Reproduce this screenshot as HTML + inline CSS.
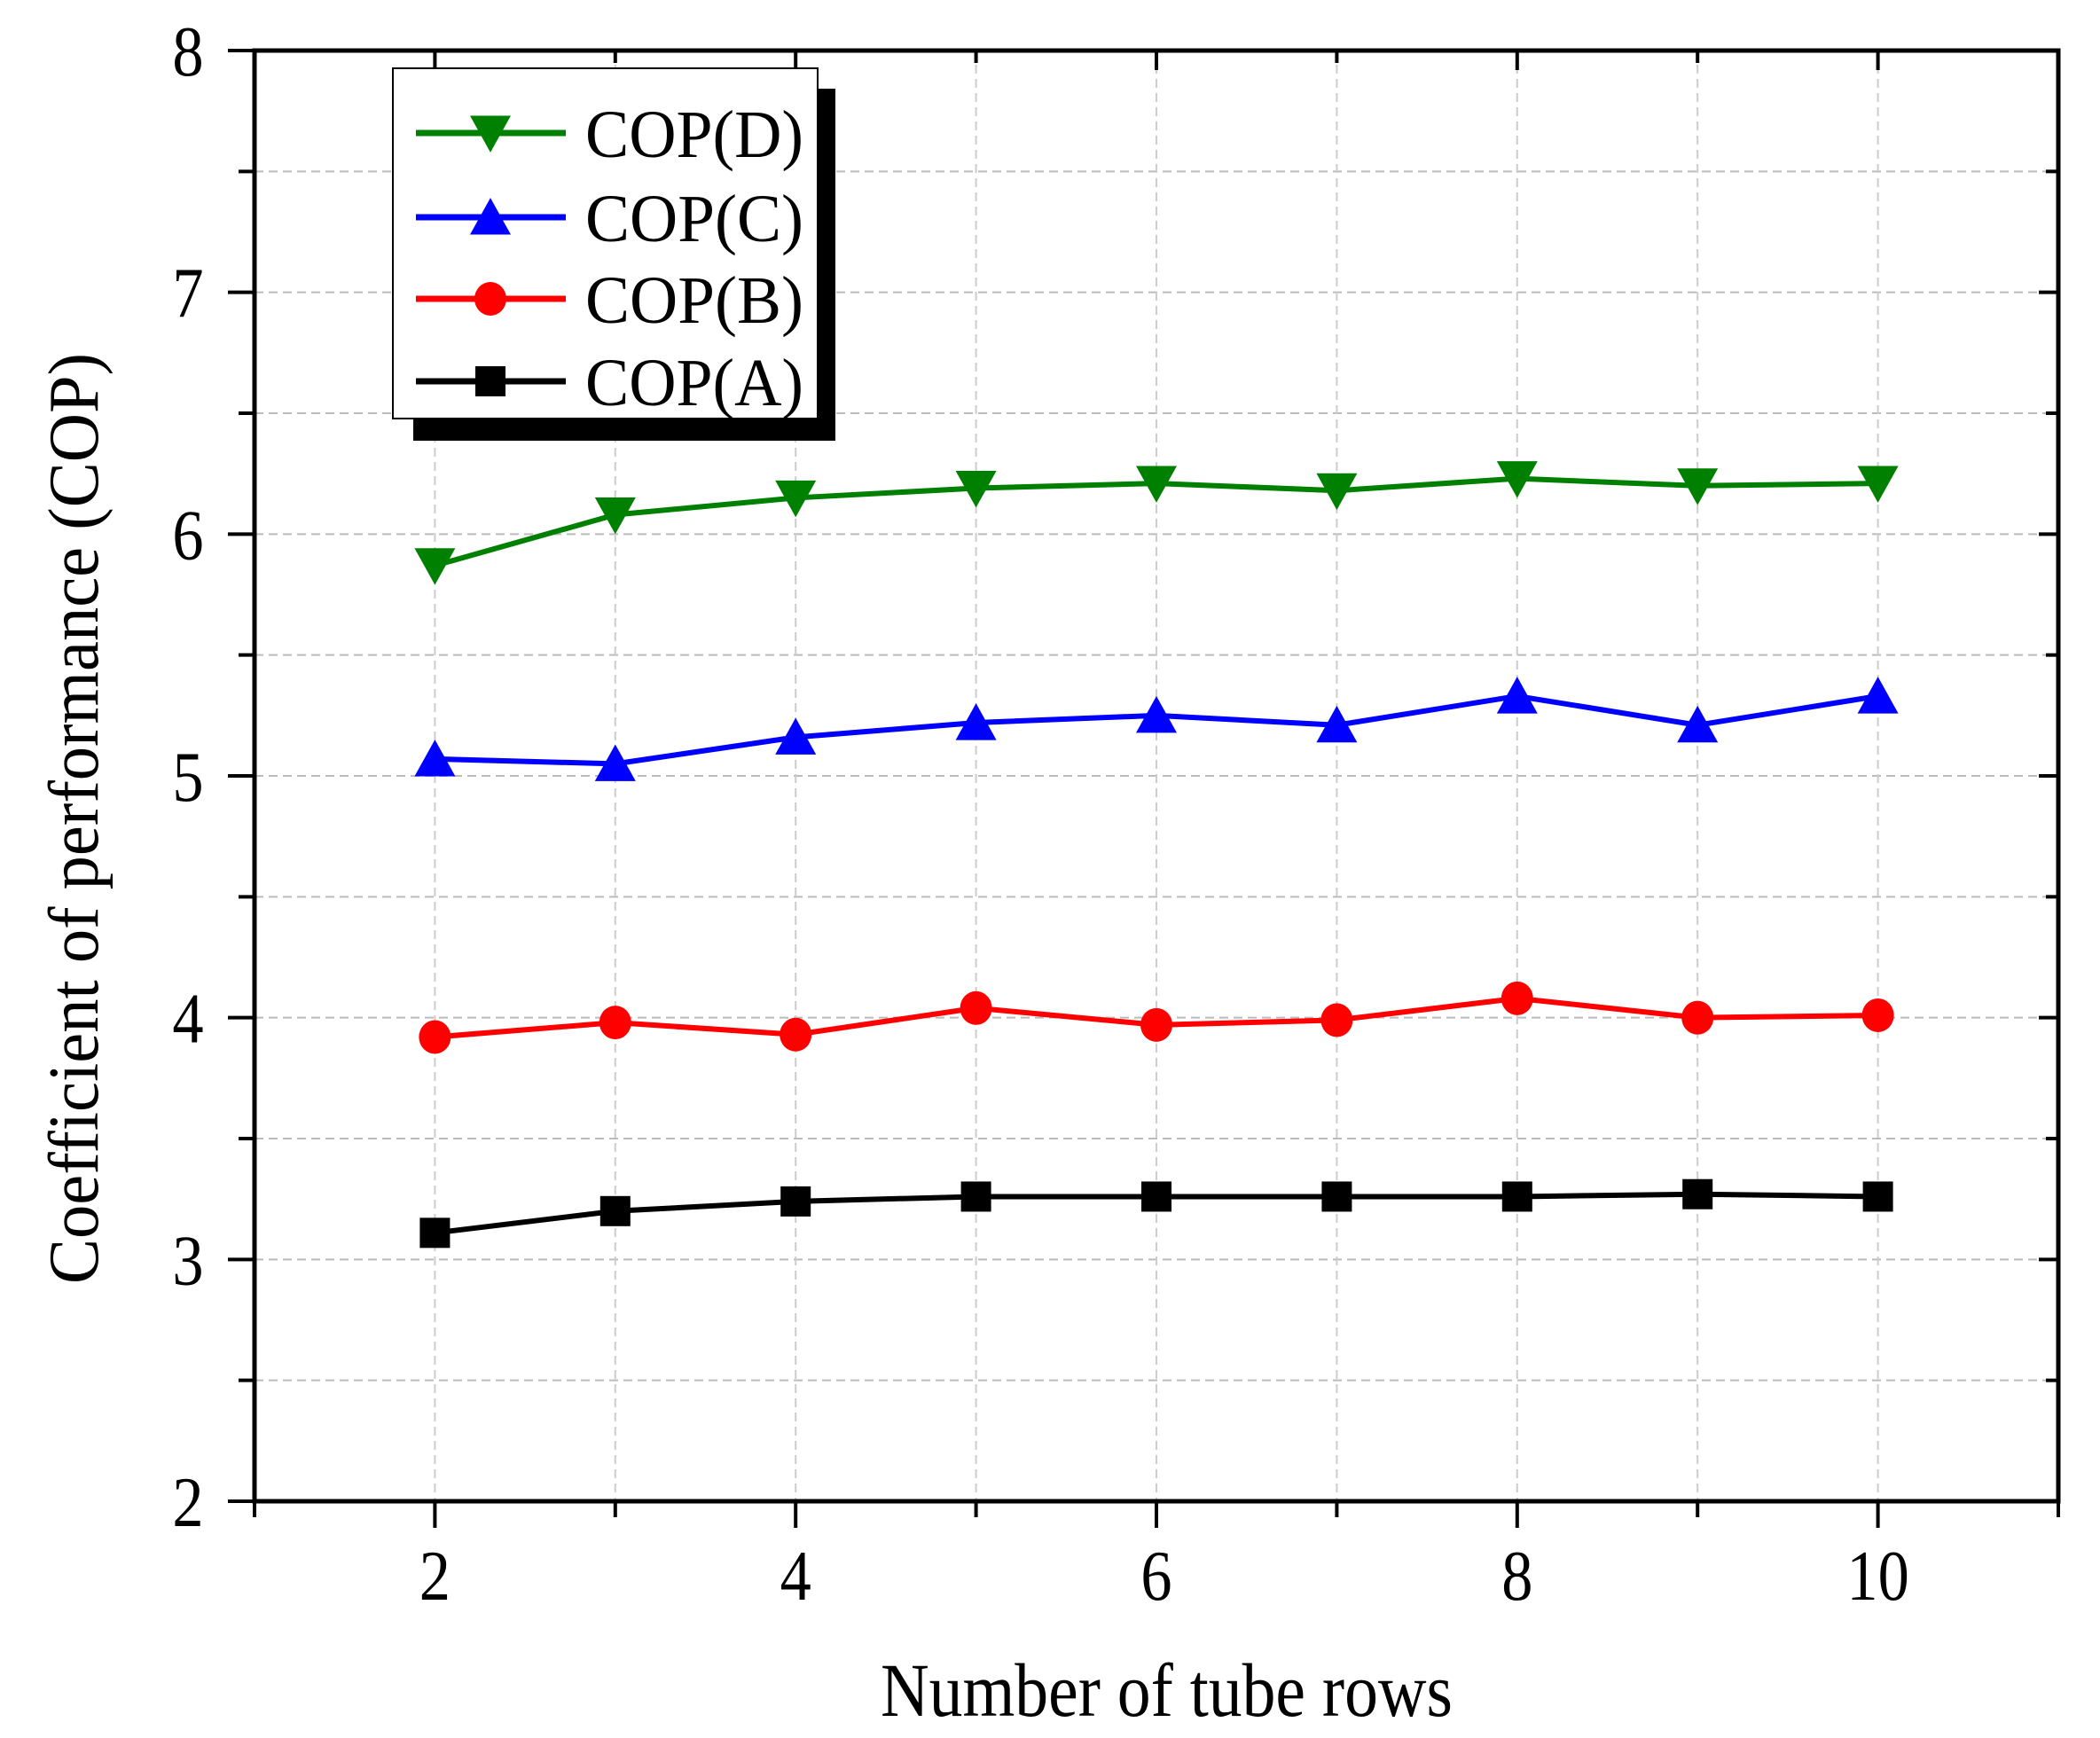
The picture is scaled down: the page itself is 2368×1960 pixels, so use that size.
<!DOCTYPE html>
<html><head><meta charset="utf-8"><style>
html,body{margin:0;padding:0;background:#fff;}
svg{display:block;font-family:"Liberation Serif",serif;}
</style></head><body>
<svg id="chart" width="2368" height="1960" viewBox="0 0 2368 1960" xmlns="http://www.w3.org/2000/svg">
<g id="grid"></g>
<g id="series"></g>
<g id="axes"></g>
<g id="legend"></g>
<text x="993" y="1935" font-size="86" fill="#000" textLength="645" lengthAdjust="spacingAndGlyphs">Number of tube rows</text>
<text x="-525" y="0" font-size="80" fill="#000" textLength="1050" lengthAdjust="spacingAndGlyphs" transform="translate(110,923) rotate(-90)">Coefficient of performance (COP)</text>
</svg>
<script>
const xCats = [2,3,4,5,6,7,8,9,10];
const copD = [5.87,6.08,6.15,6.19,6.21,6.18,6.23,6.20,6.21];
const copC = [5.07,5.05,5.16,5.22,5.25,5.21,5.33,5.21,5.33];
const copB = [3.92,3.98,3.93,4.04,3.97,3.99,4.08,4.00,4.01];
const copA = [3.11,3.20,3.24,3.26,3.26,3.26,3.26,3.27,3.26];
const xTicks = [2,4,6,8,10];
const yTicks = [2,3,4,5,6,7,8];
const legendLabels = ["COP(D)","COP(C)","COP(B)","COP(A)"];

const NS="http://www.w3.org/2000/svg";
const L=287,R=2321,T=57,B=1693;
const X0=1,X1=11,Y0=2,Y1=8;
function sx(v){return L+(v-X0)/(X1-X0)*(R-L);}
function sy(v){return B-(v-Y0)/(Y1-Y0)*(B-T);}
function mk(tag,attrs,parent){const e=document.createElementNS(NS,tag);for(const k in attrs)e.setAttribute(k,attrs[k]);parent.appendChild(e);return e;}
const grid=document.getElementById('grid'),axes=document.getElementById('axes'),ser=document.getElementById('series'),leg=document.getElementById('legend');

for(let v=Y0+0.5;v<Y1;v+=0.5){
  const g=mk('line',{x1:L,x2:R,y1:sy(v),y2:sy(v),stroke:'#bbb','stroke-width':2,'stroke-dasharray':'10,6'},grid);
  
  
}
for(let v=X0+1;v<X1;v+=1){
  const g=mk('line',{x1:sx(v),x2:sx(v),y1:T,y2:B,stroke:'#ccc','stroke-width':2,'stroke-dasharray':'10,6'},grid);
  
  
}
const fr=mk('rect',{x:L,y:T,width:R-L,height:B-T,fill:'none',stroke:'#000','stroke-width':5},axes);


for(let v=X0;v<=X1;v+=1){
  const major=(v%2===0);
  const len=major?30:18;
  mk('line',{x1:sx(v),x2:sx(v),y1:B,y2:B+len,stroke:'#000','stroke-width':4},axes);
  if(v>X0&&v<X1) mk('line',{x1:sx(v),x2:sx(v),y1:T,y2:T+(major?22:14),stroke:'#000','stroke-width':4},axes);
}
xTicks.forEach(v=>{
  const t=mk('text',{x:sx(v),y:1804,'font-size':80,'text-anchor':'middle',fill:'#000',transform:`translate(${sx(v)*0.12},0) scale(0.88,1)`},axes);
  t.textContent=v;
  
  
});
for(let v=Y0;v<=Y1+0.001;v+=0.5){
  const major=Math.abs(v-Math.round(v))<0.01;
  mk('line',{x1:L-(major?30:18),x2:L,y1:sy(v),y2:sy(v),stroke:'#000','stroke-width':4},axes);
  if(v>Y0&&v<Y1) mk('line',{x1:R-(major?22:14),x2:R,y1:sy(v),y2:sy(v),stroke:'#000','stroke-width':4},axes);
}
yTicks.forEach(v=>{
  const t=mk('text',{x:212,y:sy(v)+28,'font-size':80,'text-anchor':'middle',fill:'#000',transform:`translate(${212*0.12},0) scale(0.88,1)`},axes);
  t.textContent=v;
  
  
});

function marker(shape,cx,cy,color,parent){
  const s=23;
  if(shape==='down') return mk('polygon',{points:`${cx-s},${cy-s*0.85} ${cx+s},${cy-s*0.85} ${cx},${cy+s*0.95}`,fill:color},parent);
  if(shape==='up') return mk('polygon',{points:`${cx-s},${cy+s*0.85} ${cx+s},${cy+s*0.85} ${cx},${cy-s*0.95}`,fill:color},parent);
  if(shape==='circle') return mk('ellipse',{cx:cx,cy:cy,rx:18,ry:19,fill:color},parent);
  return mk('rect',{x:cx-17,y:cy-17,width:34,height:34,fill:color},parent);
}
const seriesDefs=[[copD,'#008000','down','series-cop-d'],[copC,'#0000ff','up','series-cop-c'],[copB,'#ff0000','circle','series-cop-b'],[copA,'#000000','square','series-cop-a']];
seriesDefs.forEach(([data,color,shape,name])=>{
  const g=mk('g',{},ser);
  
  
  const pts=data.map((v,i)=>sx(xCats[i])+','+sy(v)).join(' ');
  const pl=mk('polyline',{points:pts,fill:'none',stroke:color,'stroke-width':6},g);
  
  
  data.forEach((v,i)=>{
    const m=marker(shape,sx(xCats[i]),sy(v),color,g);
    
    
  });
});

const sh=mk('rect',{x:466,y:100,width:476,height:397,fill:'#000'},leg);


const bx=mk('rect',{x:443,y:77,width:479,height:395,fill:'#fff',stroke:'#000','stroke-width':2},leg);


const ly=[150,245,337,430];
seriesDefs.forEach(([d,color,shape,name],i)=>{
  const g=mk('g',{},leg);
  
  
  mk('line',{x1:469,x2:638,y1:ly[i],y2:ly[i],stroke:color,'stroke-width':7},g);
  marker(shape,553,ly[i],color,g);
  const t=mk('text',{x:660,y:ly[i]+27,'font-size':76,fill:'#000',textLength:246,lengthAdjust:'spacingAndGlyphs'},g);
  t.textContent=legendLabels[i];
});
</script>
</body></html>
